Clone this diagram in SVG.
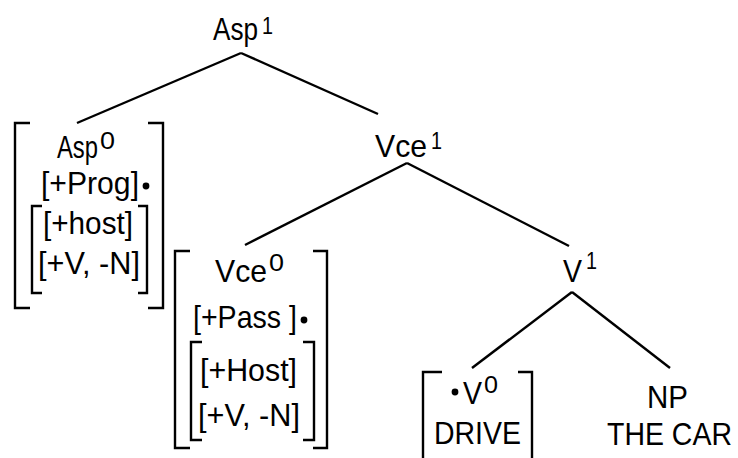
<svg xmlns="http://www.w3.org/2000/svg" width="738" height="458" viewBox="0 0 738 458">
<style>
text{font-family:"Liberation Sans",Arial,sans-serif;fill:#000}
.m{font-size:32px}
.s{font-size:23px}
.br{fill:none;stroke:#000;stroke-width:2.4}
.e{stroke:#000;stroke-width:2.4;fill:none}
</style>
<rect width="738" height="458" fill="#fff"/>
<g id="edges">
<line class="e" x1="241" y1="53" x2="77" y2="123"/>
<line class="e" x1="241" y1="53" x2="378" y2="114"/>
<line class="e" x1="407" y1="163" x2="245" y2="245"/>
<line class="e" x1="407" y1="163" x2="569" y2="246"/>
<line class="e" x1="572" y1="292" x2="472" y2="368"/>
<line class="e" x1="572" y1="292" x2="670" y2="368"/>
</g>
<g id="asp1">
<text class="m" x="213" y="40" textLength="45" lengthAdjust="spacingAndGlyphs">Asp</text>
<text class="s" x="262" y="34" textLength="11" lengthAdjust="spacingAndGlyphs">1</text>
</g>
<g id="asp0">
<path class="br" d="M30,123H15V308H30M148,123H163V308H148"/>
<path class="br" d="M42,206H32V293H42M138,206H147V293H138"/>
<text class="m" x="57" y="158" textLength="41" lengthAdjust="spacingAndGlyphs">Asp</text>
<text class="s" x="100" y="149" textLength="15" lengthAdjust="spacingAndGlyphs">0</text>
<text class="m" x="41" y="194" textLength="98" lengthAdjust="spacingAndGlyphs">[+Prog]</text>
<circle cx="146" cy="186" r="3.4"/>
<text class="m" x="43" y="234" textLength="90" lengthAdjust="spacingAndGlyphs">[+host]</text>
<text class="m" x="38" y="274" textLength="102" lengthAdjust="spacingAndGlyphs">[+V, -N]</text>
</g>
<g id="vce1">
<text class="m" x="375" y="157" textLength="52" lengthAdjust="spacingAndGlyphs">Vce</text>
<text class="s" x="431" y="149" textLength="11" lengthAdjust="spacingAndGlyphs">1</text>
</g>
<g id="vce0">
<path class="br" d="M190,251H175V448H190M313,251H327V448H313"/>
<path class="br" d="M202,342H191V440H202M303,342H314V440H303"/>
<text class="m" x="215" y="282" textLength="52" lengthAdjust="spacingAndGlyphs">Vce</text>
<text class="s" x="269" y="271" textLength="15" lengthAdjust="spacingAndGlyphs">0</text>
<text class="m" x="193" y="328" textLength="104" lengthAdjust="spacingAndGlyphs">[+Pass ]</text>
<circle cx="304" cy="320" r="3.4"/>
<text class="m" x="200" y="381" textLength="97" lengthAdjust="spacingAndGlyphs">[+Host]</text>
<text class="m" x="198" y="426" textLength="102" lengthAdjust="spacingAndGlyphs">[+V, -N]</text>
</g>
<g id="v1">
<text class="m" x="563" y="282" textLength="19" lengthAdjust="spacingAndGlyphs">V</text>
<text class="s" x="586" y="269" textLength="11" lengthAdjust="spacingAndGlyphs">1</text>
</g>
<g id="v0">
<path class="br" d="M442,372H423V460M518,372H532V460"/>
<circle cx="455" cy="392" r="3.4"/>
<text class="m" x="463" y="404" textLength="19" lengthAdjust="spacingAndGlyphs">V</text>
<text class="s" x="484" y="393" textLength="14" lengthAdjust="spacingAndGlyphs">0</text>
<text class="m" x="434" y="444" textLength="87" lengthAdjust="spacingAndGlyphs">DRIVE</text>
</g>
<g id="np">
<text class="m" x="647" y="408" textLength="41" lengthAdjust="spacingAndGlyphs">NP</text>
<text class="m" x="732" y="445" text-anchor="end" textLength="125" lengthAdjust="spacingAndGlyphs">THE CAR</text>
</g>
</svg>
